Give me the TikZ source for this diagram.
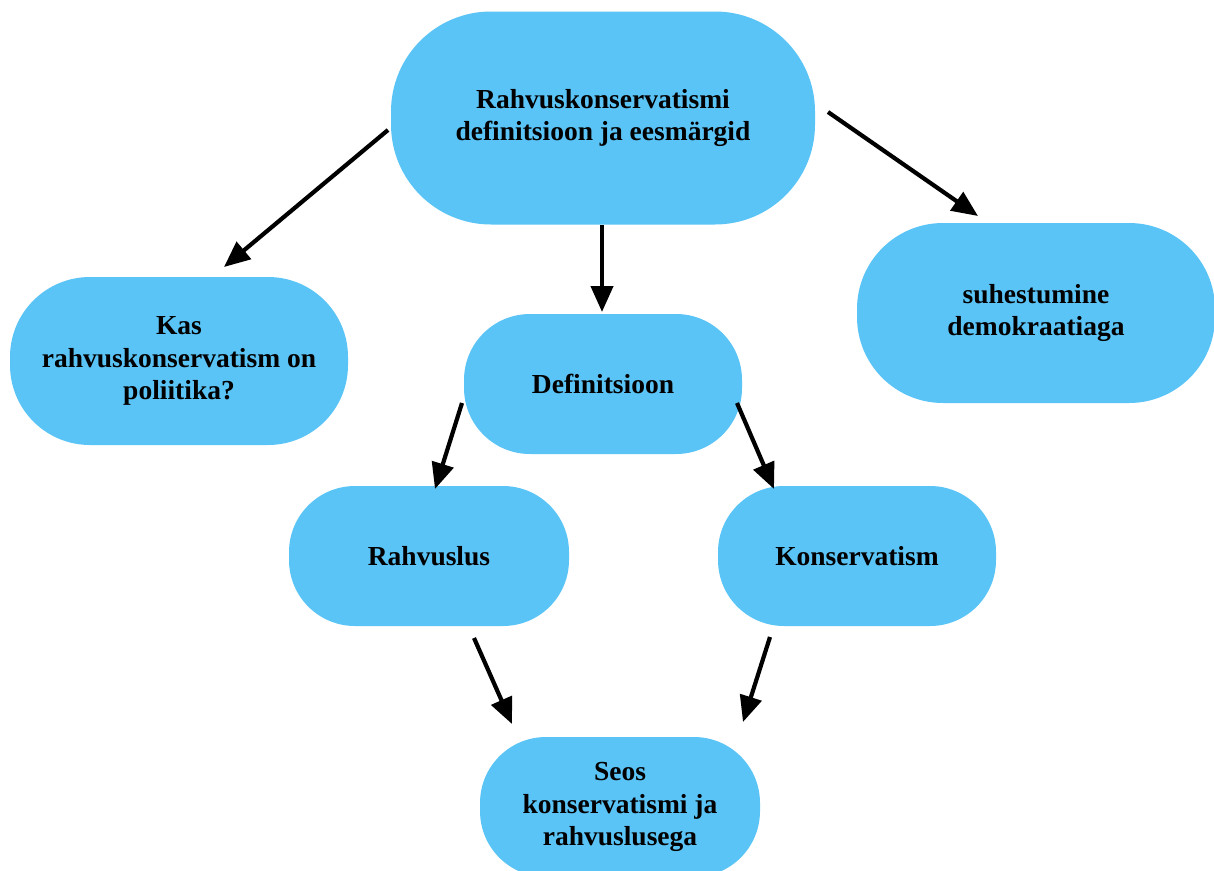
\documentclass[tikz,border=0pt]{standalone}
\usepackage{fontspec}
\setmainfont{Liberation Serif}
\usetikzlibrary{arrows.meta}
\definecolor{nodeblue}{HTML}{5BC4F6}
\tikzset{
  blob/.style={rectangle, fill=nodeblue, align=center, inner sep=0pt,
    font=\bfseries\fontsize{27.5}{32.5}\selectfont},
  conn/.style={line width=4.2pt, -{Triangle[length=26pt,width=22pt]}}
}
\begin{document}
\begin{tikzpicture}[x=1pt,y=-1pt]
\useasboundingbox (0,0) rectangle (1214,870);
\node[blob, minimum width=424pt, minimum height=213pt, rounded corners=100pt] (top) at (603,118) {Rahvuskonservatismi\\definitsioon ja eesmärgid};
\node[blob, minimum width=338pt, minimum height=168pt, rounded corners=80pt] (kas) at (179,361) {Kas\\rahvuskonservatism on\\poliitika?};
\node[blob, minimum width=358pt, minimum height=180pt, rounded corners=86pt] (suh) at (1036,313) {suhestumine\\demokraatiaga};
\node[blob, minimum width=278pt, minimum height=140pt, rounded corners=66pt] (def) at (603,384) {Definitsioon};
\node[blob, minimum width=280pt, minimum height=140pt, rounded corners=66pt] (rahv) at (429,556) {Rahvuslus};
\node[blob, minimum width=278pt, minimum height=140pt, rounded corners=66pt] (kons) at (857,556) {Konservatism};
\node[blob, minimum width=280pt, minimum height=140pt, rounded corners=66pt] (seos) at (620,807) {Seos\\konservatismi ja\\rahvuslusega};
% arrow end points
\coordinate (a1s) at (388,130); \coordinate (a1e) at (224,267);
\coordinate (a2s) at (602,225); \coordinate (a2e) at (602,312);
\coordinate (a3s) at (828,112); \coordinate (a3e) at (978,216);
\coordinate (a4s) at (462,403); \coordinate (a4e) at (435,489);
\coordinate (a5s) at (737,403); \coordinate (a5e) at (774,489);
\coordinate (a6s) at (474,638); \coordinate (a6e) at (512,724);
\coordinate (a7s) at (770,637); \coordinate (a7e) at (743,722);
\draw[conn] (a1s) -- (a1e);
\draw[conn] (a2s) -- (a2e);
\draw[conn] (a3s) -- (a3e);
\draw[conn] (a4s) -- (a4e);
\draw[conn] (a5s) -- (a5e);
\draw[conn] (a6s) -- (a6e);
\draw[conn] (a7s) -- (a7e);
\end{tikzpicture}
\end{document}
